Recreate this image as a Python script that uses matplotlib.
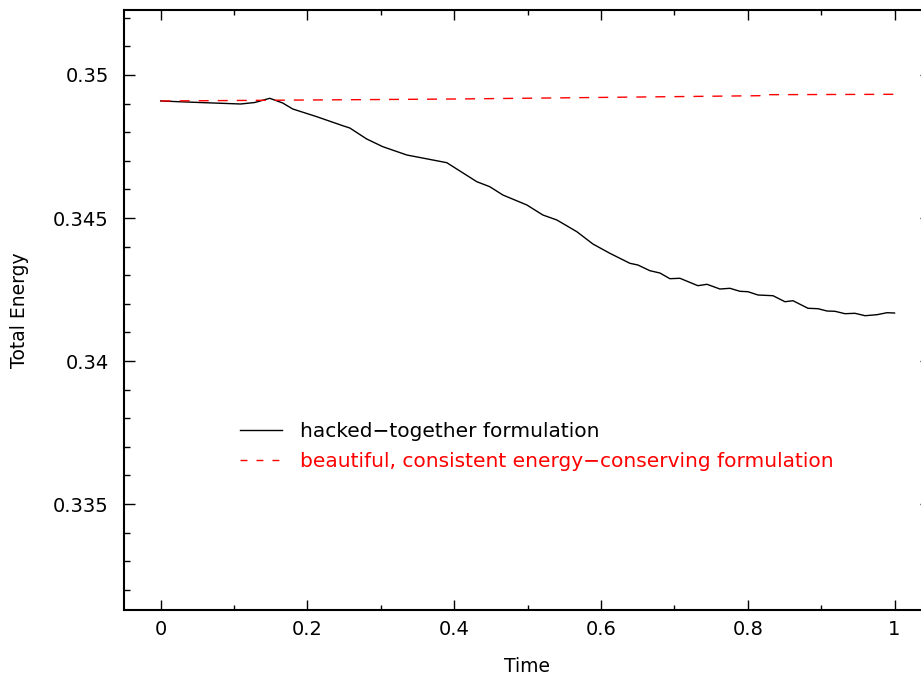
import numpy as np
import matplotlib
matplotlib.use('Agg')
import matplotlib.pyplot as plt
from matplotlib.lines import Line2D
from matplotlib.ticker import MultipleLocator, FuncFormatter

# hacked-together formulation
time_hack = [0.0, 0.0532, 0.1091, 0.1282, 0.1486, 0.1663, 0.1800, 0.2127, 0.2481, 0.2577,
             0.2808, 0.3027, 0.3354, 0.3899, 0.4308, 0.4485, 0.4663, 0.4990, 0.5208, 0.5399,
             0.5671, 0.5890, 0.6121, 0.6394, 0.6503, 0.6667, 0.6803, 0.6939, 0.7076, 0.7321,
             0.7444, 0.7621, 0.7757, 0.7894, 0.8003, 0.8139, 0.8344, 0.8507, 0.8616, 0.8821,
             0.8957, 0.9080, 0.9189, 0.9325, 0.9461, 0.9598, 0.9761, 0.9898, 1.0]
energy_hack = [0.349091, 0.349038, 0.348986, 0.349038, 0.349185, 0.349021, 0.348811, 0.348542,
               0.348227, 0.348147, 0.347762, 0.347493, 0.347203, 0.346934, 0.346269, 0.346094,
               0.345804, 0.345455, 0.345105, 0.344930, 0.344521, 0.344091, 0.343766, 0.343416,
               0.343357, 0.343157, 0.343077, 0.342878, 0.342892, 0.342633, 0.342682, 0.342517,
               0.342542, 0.342437, 0.342423, 0.342308, 0.342283, 0.342073, 0.342108, 0.341843,
               0.341829, 0.341748, 0.341738, 0.341654, 0.341668, 0.341584, 0.341619, 0.341689,
               0.341678]

# energy-conserving formulation
time_cons = [0.0, 0.4, 0.8166, 0.8180, 1.0]
energy_cons = [0.349091, 0.349160, 0.349276, 0.349311, 0.349325]

label_hack = 'hacked\u2212together formulation'
label_cons = 'beautiful, consistent energy\u2212conserving formulation'

plt.rcParams['font.family'] = ['DejaVu Sans']

fig = plt.figure(figsize=(9.21, 6.79), dpi=100)
ax = fig.add_axes([0.1346, 0.1016, 0.8765, 0.8837])

ax.plot(time_hack, energy_hack, color='black', lw=1.0)
ax.plot(time_cons, energy_cons, color='red', lw=1.0, dashes=(7.2, 6.5))

ax.set_xlim(-0.05, 1.05)
ax.set_ylim(0.331294, 0.352273)

ax.xaxis.set_major_locator(MultipleLocator(0.2))
ax.xaxis.set_minor_locator(MultipleLocator(0.1))
ax.yaxis.set_major_locator(MultipleLocator(0.005))
ax.yaxis.set_minor_locator(MultipleLocator(0.001))
ax.xaxis.set_major_formatter(FuncFormatter(lambda v, p: ('%g' % round(v, 3))))
ax.yaxis.set_major_formatter(FuncFormatter(lambda v, p: ('%g' % round(v, 4))))

for s in ax.spines.values():
    s.set_linewidth(1.5)
ax.tick_params(which='both', direction='in', top=True, right=True, width=1.0, labelsize=14)
ax.tick_params(axis='x', which='major', length=7.2, pad=7)
ax.tick_params(axis='x', which='minor', length=3.6)
ax.tick_params(axis='y', which='major', length=7.6, pad=11)
ax.tick_params(axis='y', which='minor', length=4.3)

ax.set_xlabel('Time', fontsize=13.5)
ax.set_ylabel('Total Energy', fontsize=13.5)
ax.xaxis.set_label_coords(0.499, -0.079)
ax.yaxis.set_label_coords(-0.118, 0.5)

# legend handles (shorter dashes in the key, as in the reference)
handles = [Line2D([], [], color='black', lw=1.0),
           Line2D([], [], color='red', lw=1.0, dashes=(5.0, 6.5))]
leg = ax.legend(handles, [label_hack, label_cons],
                loc='upper left', bbox_to_anchor=(240 / 921, 1 - 422 / 679),
                bbox_transform=fig.transFigure, frameon=False, fontsize=14.5,
                handlelength=2.1, handletextpad=0.87, labelspacing=0.54,
                borderpad=0, borderaxespad=0, labelcolor=['black', 'red'])

fig.savefig('out.png', dpi=100)
